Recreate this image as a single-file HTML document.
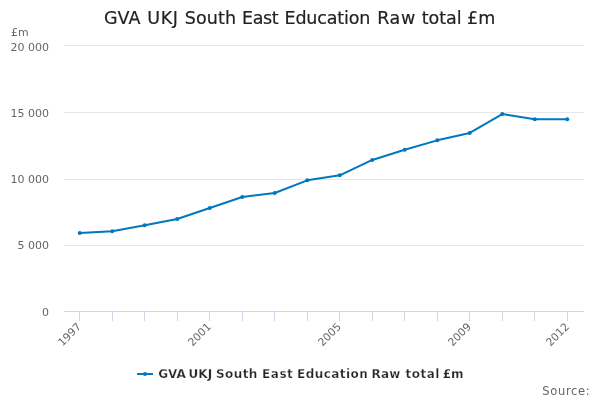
<!DOCTYPE html>
<html><head><meta charset="utf-8"><style>
html,body{margin:0;padding:0;background:#fff;width:600px;height:400px;overflow:hidden}
svg{display:block;font-family:"DejaVu Sans","Liberation Sans",sans-serif}
</style></head><body>
<svg width="600" height="400" viewBox="0 0 600 400">
<rect width="600" height="400" fill="#ffffff"/>
<text y="24" font-size="17.5" fill="#222222" stroke="#222222" stroke-width="0.2"><tspan x="104">GVA</tspan> <tspan x="147.3" letter-spacing="0.6">UKJ</tspan> <tspan x="184.8" letter-spacing="0.1">South</tspan> <tspan x="242.1" letter-spacing="-0.45">East</tspan> <tspan x="284.5" letter-spacing="-0.15">Education</tspan> <tspan x="377.2" letter-spacing="0.6">Raw</tspan> <tspan x="421.7">total</tspan> <tspan x="467.1">£m</tspan></text>
<text x="11" y="36" font-size="11" fill="#666666">£m</text>
<rect x="64" y="45" width="520" height="1" fill="#e6e6e6"/>
<rect x="64" y="112" width="520" height="1" fill="#e6e6e6"/>
<rect x="64" y="179" width="520" height="1" fill="#e6e6e6"/>
<rect x="64" y="245" width="520" height="1" fill="#e6e6e6"/>
<rect x="64" y="311" width="520" height="1" fill="#ccd6eb"/>
<rect x="79" y="311" width="1" height="10" fill="#ccd6eb"/>
<rect x="112" y="311" width="1" height="10" fill="#ccd6eb"/>
<rect x="144" y="311" width="1" height="10" fill="#ccd6eb"/>
<rect x="177" y="311" width="1" height="10" fill="#ccd6eb"/>
<rect x="209" y="311" width="1" height="10" fill="#ccd6eb"/>
<rect x="242" y="311" width="1" height="10" fill="#ccd6eb"/>
<rect x="274" y="311" width="1" height="10" fill="#ccd6eb"/>
<rect x="307" y="311" width="1" height="10" fill="#ccd6eb"/>
<rect x="339" y="311" width="1" height="10" fill="#ccd6eb"/>
<rect x="372" y="311" width="1" height="10" fill="#ccd6eb"/>
<rect x="404" y="311" width="1" height="10" fill="#ccd6eb"/>
<rect x="437" y="311" width="1" height="10" fill="#ccd6eb"/>
<rect x="469" y="311" width="1" height="10" fill="#ccd6eb"/>
<rect x="502" y="311" width="1" height="10" fill="#ccd6eb"/>
<rect x="534" y="311" width="1" height="10" fill="#ccd6eb"/>
<rect x="567" y="311" width="1" height="10" fill="#ccd6eb"/>
<g font-size="11" fill="#666666">
<text x="49.1" y="51" text-anchor="end">20 000</text>
<text x="49.1" y="117" text-anchor="end">15 000</text>
<text x="49.1" y="183" text-anchor="end">10 000</text>
<text x="49.1" y="249" text-anchor="end">5 000</text>
<text x="49.1" y="316" text-anchor="end">0</text>

<text x="81.80" y="327.4" font-size="10.75" text-anchor="end" transform="rotate(-45 81.80 327.4)">1997</text>
<text x="211.80" y="327.4" font-size="10.75" text-anchor="end" transform="rotate(-45 211.80 327.4)">2001</text>
<text x="341.80" y="327.4" font-size="10.75" text-anchor="end" transform="rotate(-45 341.80 327.4)">2005</text>
<text x="471.80" y="327.4" font-size="10.75" text-anchor="end" transform="rotate(-45 471.80 327.4)">2009</text>
<text x="569.80" y="327.4" font-size="10.75" text-anchor="end" transform="rotate(-45 569.80 327.4)">2012</text>

</g>
<path d="M 79.75 232.95 L 112.25 231.15 L 144.75 225.35 L 177.25 218.95 L 209.75 207.95 L 242.25 196.95 L 274.75 192.95 L 307.25 180.35 L 339.75 175.35 L 372.25 159.95 L 404.75 149.75 L 437.25 140.35 L 469.75 132.95 L 502.25 114.05 L 534.75 119.15 L 567.25 119.15" fill="none" stroke="#0077bf" stroke-width="2" stroke-linejoin="round" stroke-linecap="round"/>
<circle cx="79.75" cy="232.95" r="2" fill="#0077bf"/>
<circle cx="112.25" cy="231.15" r="2" fill="#0077bf"/>
<circle cx="144.75" cy="225.35" r="2" fill="#0077bf"/>
<circle cx="177.25" cy="218.95" r="2" fill="#0077bf"/>
<circle cx="209.75" cy="207.95" r="2" fill="#0077bf"/>
<circle cx="242.25" cy="196.95" r="2" fill="#0077bf"/>
<circle cx="274.75" cy="192.95" r="2" fill="#0077bf"/>
<circle cx="307.25" cy="180.35" r="2" fill="#0077bf"/>
<circle cx="339.75" cy="175.35" r="2" fill="#0077bf"/>
<circle cx="372.25" cy="159.95" r="2" fill="#0077bf"/>
<circle cx="404.75" cy="149.75" r="2" fill="#0077bf"/>
<circle cx="437.25" cy="140.35" r="2" fill="#0077bf"/>
<circle cx="469.75" cy="132.95" r="2" fill="#0077bf"/>
<circle cx="502.25" cy="114.05" r="2" fill="#0077bf"/>
<circle cx="534.75" cy="119.15" r="2" fill="#0077bf"/>
<circle cx="567.25" cy="119.15" r="2" fill="#0077bf"/>
<path d="M137 374 L153 374" stroke="#0077bf" stroke-width="2"/>
<circle cx="145" cy="374" r="2" fill="#0077bf"/>
<text y="378" font-size="12" font-weight="bold" fill="#262626" stroke="#ffffff" stroke-width="0.25"><tspan x="158.2" letter-spacing="0">GVA</tspan> <tspan x="188.6" letter-spacing="0">UKJ</tspan> <tspan x="216.0" letter-spacing="0.4">South</tspan> <tspan x="262.1" letter-spacing="0.5">East</tspan> <tspan x="297" letter-spacing="0.45">Education</tspan> <tspan x="371.4" letter-spacing="0.3">Raw</tspan> <tspan x="405.5" letter-spacing="0.5">total</tspan> <tspan x="442.8" letter-spacing="-0.1">£m</tspan></text>
<text x="542.2" y="394.8" font-size="11.5" fill="#666666" textLength="47.5" lengthAdjust="spacing">Source:</text>
</svg>
</body></html>
